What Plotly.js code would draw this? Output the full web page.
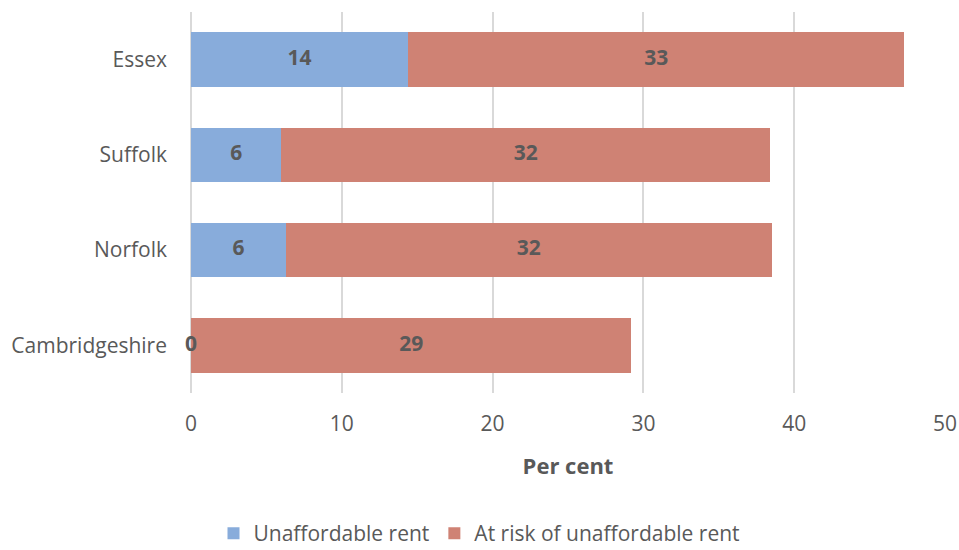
<!DOCTYPE html>
<html><head><meta charset="utf-8">
<script src="https://cdn.plot.ly/plotly-3.0.1.min.js"></script>
<style>html,body{margin:0;padding:0;background:#fff}#chart{width:959px;height:550px}</style>
</head><body><div id="chart"></div>
<script>
const categories = ["Cambridgeshire", "Norfolk", "Suffolk", "Essex"];
const unaffordable = [0, 6.3, 6.0, 14.4];
const atRisk = [29.2, 32.2, 32.4, 32.9];
const xTicks = [0, 10, 20, 30, 40, 50];

const FONT = "Open Sans, Liberation Sans, sans-serif";
const GREY = "#595959";
const blueLabelX = unaffordable.map(v => v / 2);
const redLabelX = unaffordable.map((v, i) => v + atRisk[i] / 2);
const fmt = a => a.map(v => String(Math.round(v)));

const traces = [
  {type: "bar", orientation: "h", name: "Unaffordable rent", y: categories, x: unaffordable,
   marker: {color: "#88ACDB"}, hoverinfo: "x+name"},
  {type: "bar", orientation: "h", name: "At risk of unaffordable rent", y: categories, x: atRisk,
   marker: {color: "#CF8274"}, hoverinfo: "x+name"},
  {type: "scatter", mode: "text", x: blueLabelX, y: categories, text: fmt(unaffordable), textposition: "middle center",
   textfont: {family: FONT, size: 21, color: GREY, weight: "bold"}, showlegend: false, hoverinfo: "skip", cliponaxis: false},
  {type: "scatter", mode: "text", x: redLabelX, y: categories, text: fmt(atRisk), textposition: "middle center",
   textfont: {family: FONT, size: 21, color: GREY, weight: "bold"}, showlegend: false, hoverinfo: "skip", cliponaxis: false}
];

const layout = {
  width: 959, height: 550,
  margin: {l: 191, r: 14, t: 12, b: 157},
  barmode: "stack", bargap: 0.43,
  paper_bgcolor: "#fff", plot_bgcolor: "#fff",
  font: {family: FONT, color: GREY, size: 20},
  xaxis: {range: [0, 50], tickvals: xTicks, ticktext: xTicks.map(String),
    showgrid: true, gridcolor: "#D9D9D9", gridwidth: 2, zeroline: true, zerolinecolor: "#D9D9D9", zerolinewidth: 2,
    showline: false, ticks: "", ticklabelstandoff: 16, tickfont: {size: 21, color: GREY},
    title: {text: "Per cent", font: {size: 22, color: GREY, weight: "bold"}, standoff: 22}, fixedrange: true},
  yaxis: {categoryorder: "array", categoryarray: categories, showgrid: false, zeroline: false, showline: false,
    ticks: "", ticklabelstandoff: 23, tickfont: {size: 21, color: GREY}, fixedrange: true},
  legend: {orientation: "h", xref: "container", yref: "container", x: 0.5, xanchor: "center", y: 0.03, yanchor: "middle",
    font: {size: 21, color: GREY}, itemwidth: 30, traceorder: "normal"},
  showlegend: true
};
Plotly.newPlot("chart", traces, layout, {displayModeBar: false, staticPlot: true});
</script></body></html>
